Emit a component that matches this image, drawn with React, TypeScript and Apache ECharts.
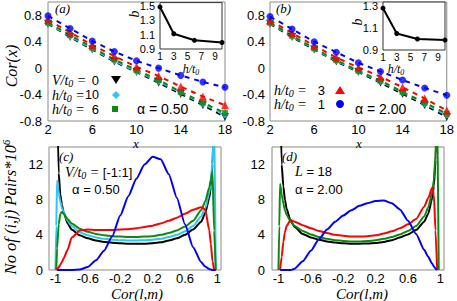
import { useEffect, useRef } from 'react';
import * as echarts from 'echarts';

// ---------- top panels: Cor(x) versus x ----------
const siteX = [2, 4, 6, 8, 10, 12, 14, 16, 18];
// panel (a), alpha = 0.50
const corA_V0 = [0.67, 0.47, 0.28, 0.10, -0.06, -0.22, -0.39, -0.56, -0.74];
const corA_H10 = [0.68, 0.48, 0.29, 0.11, -0.05, -0.20, -0.37, -0.54, -0.71];
const corA_H6 = [0.69, 0.50, 0.31, 0.13, -0.03, -0.18, -0.36, -0.52, -0.68];
const corA_H3 = [0.73, 0.54, 0.35, 0.18, 0.02, -0.12, -0.28, -0.43, -0.56];
const corA_H1 = [0.79, 0.60, 0.41, 0.25, 0.11, 0.00, -0.11, -0.21, -0.29];
// panel (b), alpha = 2.00
const corB_V0 = [0.67, 0.47, 0.28, 0.10, -0.06, -0.22, -0.39, -0.56, -0.74];
const corB_H10 = [0.68, 0.48, 0.29, 0.11, -0.05, -0.20, -0.37, -0.54, -0.71];
const corB_H6 = [0.69, 0.49, 0.30, 0.12, -0.04, -0.19, -0.36, -0.52, -0.69];
const corB_H3 = [0.72, 0.53, 0.34, 0.16, 0.01, -0.13, -0.29, -0.46, -0.64];
const corB_H1 = [0.78, 0.59, 0.40, 0.24, 0.08, -0.05, -0.18, -0.30, -0.41];

// ---------- insets: b versus h/t0 ----------
const hField = [1, 3, 6, 10];
const bAlpha050 = [1.48, 1.11, 1.02, 0.99];
const bAlpha200 = [1.28, 1.05, 1.0, 0.99];

// ---------- bottom panels: number of pairs versus Cor(l,m) ----------
const corrX = [-1, -0.99, -0.98, -0.96, -0.94, -0.92, -0.9, -0.85, -0.8, -0.7, -0.6, -0.5, -0.4, -0.3, -0.2, -0.1, 0, 0.1, 0.2, 0.3, 0.4, 0.5, 0.6, 0.7, 0.8, 0.85, 0.9, 0.92, 0.94, 0.96, 0.98, 0.99, 1];
// panel (c), alpha = 0.50
const pcBlack = [null, null, 20, 11, 8.6, 7.4, 6.6, 5.3, 4.6, 3.95, 3.6, 3.35, 3.2, 3.1, 3.05, 3.0, 3.0, 3.0, 3.05, 3.15, 3.35, 3.6, 4.0, 4.6, 5.5, 6.5, 8.2, 9.5, 12, 20, null, null, null];
const pcCyan = [0, 5, 10.2, 8.8, 7.8, 7.1, 6.6, 5.6, 5.0, 4.3, 3.95, 3.7, 3.55, 3.45, 3.4, 3.35, 3.35, 3.4, 3.45, 3.55, 3.75, 4.0, 4.4, 5.0, 6.1, 7.0, 8.8, 10, 12.5, 17, 0, null, null];
const pcGreen = [null, 0, 2.5, 5.2, 6.4, 6.6, 6.4, 5.8, 5.3, 4.7, 4.35, 4.1, 3.95, 3.85, 3.8, 3.75, 3.75, 3.8, 3.85, 4.0, 4.2, 4.5, 4.95, 5.6, 6.8, 7.8, 9.4, 10.3, 11.2, 4.5, 0, null, null];
const pcRed = [null, 0, 0.1, 0.3, 0.6, 0.9, 1.3, 2.3, 3.7, 4.5, 4.6, 4.55, 4.55, 4.55, 4.6, 4.65, 4.75, 4.9, 5.05, 5.3, 5.6, 5.95, 6.4, 6.85, 7.15, 6.9, 4.5, 3.0, 1.0, 0, null, null, null];
const pcBlue = [null, null, 0, 0, 0, 0, 0, 0, 0, 0.05, 0.35, 1.1, 2.2, 3.8, 6.2, 8.4, 10.4, 12.0, 12.9, 12.6, 10.9, 8.2, 5.2, 2.6, 0.9, 0.4, 0.1, 0.05, 0, 0, 0, null, null];
// panel (d), alpha = 2.00
const pdBlack = [null, null, 20, 12, 9.5, 8.0, 7.0, 5.6, 4.9, 4.1, 3.7, 3.45, 3.25, 3.12, 3.05, 3.0, 3.0, 3.02, 3.08, 3.2, 3.4, 3.7, 4.05, 4.55, 5.5, 6.4, 8.2, 9.6, 12.5, 20, null, null, null];
const pdGreen = [0, 5, 9.8, 8.6, 7.6, 6.8, 6.3, 5.5, 5.0, 4.45, 4.05, 3.75, 3.55, 3.4, 3.3, 3.25, 3.25, 3.3, 3.38, 3.55, 3.75, 4.05, 4.45, 5.0, 6.1, 7.1, 8.9, 10.3, 13, 18, 0, null, null];
const pdRed = [null, null, 0, 1.5, 3.2, 4.3, 5.0, 5.7, 5.5, 5.1, 4.75, 4.45, 4.2, 4.0, 3.9, 3.8, 3.8, 3.85, 3.95, 4.15, 4.4, 4.75, 5.2, 5.8, 7.2, 8.2, 9.4, 8.5, 4.5, 0, null, null, null];
const pdBlue = [null, null, 0, 0, 0, 0, 0, 0, 0.15, 1.0, 2.2, 3.5, 4.6, 5.5, 6.2, 6.8, 7.3, 7.6, 7.85, 7.9, 7.6, 6.9, 5.6, 4.1, 2.3, 1.5, 0.7, 0.4, 0.15, 0, null, null, null];

// ---------- tick labels ----------
const topTicksX = [2, 6, 10, 14, 18];
const topTicksY = [-0.8, -0.4, 0, 0.4, 0.8];
const insetTicksX = [1, 3, 5, 7, 9];
const insetTicksYa = [0.9, 1.1, 1.3, 1.5];
const insetTicksYb = [0.9, 1.1, 1.3];
const pairTicksX = [-1, -0.6, -0.2, 0.2, 0.6, 1];
const pairTicksY = [0, 4, 8, 12];

const SERIF = "'Liberation Serif','DejaVu Serif',serif";
const SANS = "'Liberation Sans',Arial,sans-serif";

const BLACK = '#000000';
const CYAN = '#2ec4f4';
const GREEN = '#0b8a0b';
const RED = '#ff0000';
const BLUE = '#0000ff';

function axis(gridIndex: number, min: number, max: number, ticks: number[], fontSize: number, margin: number) {
  return {
    type: 'value',
    gridIndex,
    min,
    max,
    splitLine: { show: false },
    axisLine: { show: false },
    axisTick: { show: false },
    axisLabel: {
      customValues: ticks,
      showMinLabel: true,
      showMaxLabel: true,
      hideOverlap: false,
      fontSize,
      margin,
      color: '#000',
      fontFamily: SANS,
      formatter: (v: number) => String(v),
    },
  };
}

const richBase = (size: number, numSize: number) => ({
  i: { fontFamily: SERIF, fontStyle: 'italic', fontSize: size, lineHeight: size + 2, fill: '#000' },
  t: { fontFamily: SERIF, fontStyle: 'italic', fontSize: size, lineHeight: 10, fill: '#000' },
  s: { fontFamily: SERIF, fontStyle: 'italic', fontSize: Math.round(size * 0.68), lineHeight: Math.round(size * 0.68), verticalAlign: 'bottom', fill: '#000' },
  p: { fontFamily: SERIF, fontStyle: 'italic', fontSize: Math.round(size * 0.68), lineHeight: Math.round(size * 0.68), verticalAlign: 'top', fill: '#000' },
  n: { fontFamily: SANS, fontSize: numSize, lineHeight: size + 2, fill: '#000' },
});

function label(x: number, y: number, text: string, size: number, align = 'left', rotation = 0, numSize = size - 1) {
  return {
    type: 'text',
    x,
    y,
    rotation,
    z: 100,
    style: {
      text,
      rich: richBase(size, numSize),
      fontFamily: SANS,
      fontSize: size,
      fill: '#000',
      align,
      textAlign: align,
      verticalAlign: 'middle',
      textVerticalAlign: 'middle',
    },
  };
}

function buildOption() {
  const topSets = [
    { a: corA_V0, b: corB_V0, color: BLACK, symbol: 'triangle', rotate: 180, size: 8 },
    { a: corA_H10, b: corB_H10, color: CYAN, symbol: 'diamond', rotate: 0, size: 7 },
    { a: corA_H6, b: corB_H6, color: GREEN, symbol: 'rect', rotate: 0, size: 6 },
    { a: corA_H3, b: corB_H3, color: RED, symbol: 'triangle', rotate: 0, size: 8 },
    { a: corA_H1, b: corB_H1, color: BLUE, symbol: 'circle', rotate: 0, size: 7 },
  ];

  const series: any[] = [];
  [0, 1].forEach((p) => {
    topSets.forEach((s) => {
      const vals = p === 0 ? s.a : s.b;
      const data = siteX.map((x, i) => [x, vals[i]]);
      series.push({
        type: 'line',
        xAxisIndex: p,
        yAxisIndex: p,
        data,
        symbol: 'none',
        z: 2,
        lineStyle: { color: s.color, width: 2, type: [5, 5] },
      });
    });
    topSets.forEach((s) => {
      const vals = p === 0 ? s.a : s.b;
      const data = siteX.map((x, i) => [x, vals[i]]);
      series.push({
        type: 'scatter',
        xAxisIndex: p,
        yAxisIndex: p,
        data,
        symbol: s.symbol,
        symbolRotate: s.rotate,
        symbolSize: s.size,
        z: 3,
        itemStyle: { color: s.color },
      });
    });
  });

  [bAlpha050, bAlpha200].forEach((vals, k) => {
    series.push({
      type: 'line',
      xAxisIndex: 2 + k,
      yAxisIndex: 2 + k,
      data: hField.map((h, i) => [h, vals[i]]),
      symbol: 'circle',
      symbolSize: 5,
      z: 5,
      itemStyle: { color: '#000' },
      lineStyle: { color: '#000', width: 2 },
    });
  });

  const pairsC = [
    { v: pcBlack, color: BLACK },
    { v: pcCyan, color: CYAN },
    { v: pcGreen, color: GREEN },
    { v: pcRed, color: RED },
    { v: pcBlue, color: BLUE },
  ];
  const pairsD = [
    { v: pdBlack, color: BLACK },
    { v: pdGreen, color: GREEN },
    { v: pdRed, color: RED },
    { v: pdBlue, color: BLUE },
  ];
  [pairsC, pairsD].forEach((set, k) => {
    set.forEach((s) => {
      const data: number[][] = [];
      corrX.forEach((x, i) => {
        const y = s.v[i];
        if (y !== null && y !== undefined) data.push([x, y]);
      });
      series.push({
        type: 'line',
        xAxisIndex: 4 + k,
        yAxisIndex: 4 + k,
        data,
        symbol: 'none',
        smooth: 0.2,
        smoothMonotone: 'x',
        clip: true,
        z: 2,
        lineStyle: { color: s.color, width: 2 },
      });
    });
  });

  const boxMain = { show: true, borderColor: '#8a8a8a', borderWidth: 1, backgroundColor: 'transparent' };
  const boxInset = { show: true, borderColor: '#333', borderWidth: 1, backgroundColor: '#fff' };

  const graphic: any[] = [
    // axis titles
    label(11, 66, '{i|Cor(x)}', 16, 'center', Math.PI / 2),
    label(10, 207, '{i|No of (i,j) Pairs*10}{p|6}', 16.5, 'center', Math.PI / 2),
    label(136, 143.5, '{t|x}', 13, 'center'),
    label(359, 143.5, '{t|x}', 13, 'center'),
    label(137, 294, '{i|Cor(l,m)}', 15, 'center'),
    label(362, 294, '{i|Cor(l,m)}', 15, 'center'),
    // panel tags
    label(55, 8, '{i|(a)}', 13),
    label(276, 8, '{i|(b)}', 13),
    label(59, 156, '{i|(c)}', 13),
    label(282, 156, '{i|(d)}', 13),
    // inset titles
    label(191, 69, '{i|h/t}{s|0}', 12, 'center'),
    label(396, 69, '{i|h/t}{s|0}', 12, 'center'),
    label(134, 14, '{i|b}', 14, 'center', Math.PI / 2),
    label(357, 22, '{i|b}', 14, 'center', Math.PI / 2),
    // legend (a)
    label(52, 80, '{i|V/t}{s|0}{i| =}', 14),
    label(99, 80, '{n|0}', 14, 'right', 0, 13),
    label(52, 95, '{i|h/t}{s|0}{i| =}', 14),
    label(99, 95, '{n|10}', 14, 'right', 0, 12.5),
    label(52, 109, '{i|h/t}{s|0}{i| =}', 14),
    label(99, 109, '{n|6}', 14, 'right', 0, 13),
    label(137, 109, '{n|α = 0.50}', 15),
    // legend (b)
    label(274, 90, '{i|h/t}{s|0}{i| =}', 14),
    label(325, 90, '{n|3}', 14, 'right', 0, 13),
    label(274, 104, '{i|h/t}{s|0}{i| =}', 14),
    label(325, 104, '{n|1}', 14, 'right', 0, 13),
    label(355, 109, '{n|α = 2.00}', 15),
    // annotations (c), (d)
    label(65, 172, '{i|V/t}{s|0}{i| = }{n|[-1:1]}', 14),
    label(72, 189, '{n|α = 0.50}', 14),
    label(295, 171, '{i|L}{n| = 18}', 14),
    label(295, 189, '{n|α = 2.00}', 14),
    // legend keys
    { type: 'polygon', z: 100, shape: { points: [[111, 76], [121, 76], [116, 84]] }, style: { fill: BLACK } },
    { type: 'polygon', z: 100, shape: { points: [[116, 91], [120, 95], [116, 99], [112, 95]] }, style: { fill: CYAN } },
    { type: 'rect', z: 100, shape: { x: 112, y: 106, width: 6, height: 6 }, style: { fill: GREEN } },
    { type: 'polygon', z: 100, shape: { points: [[335, 94], [345, 94], [340, 86]] }, style: { fill: RED } },
    { type: 'circle', z: 100, shape: { cx: 340, cy: 104, r: 4 }, style: { fill: BLUE } },
  ];

  return {
    animation: false,
    backgroundColor: '#fff',
    textStyle: { fontFamily: SANS },
    grid: [
      { left: 48, top: 2, width: 177, height: 119, ...boxMain },
      { left: 270, top: 2, width: 178, height: 119, ...boxMain },
      { left: 160, top: 2, width: 62, height: 47, ...boxInset },
      { left: 383, top: 2, width: 62, height: 48, ...boxInset },
      { left: 49, top: 147, width: 172, height: 123, ...boxMain },
      { left: 272, top: 147, width: 172, height: 123, ...boxMain },
    ],
    xAxis: [
      axis(0, 2, 18, topTicksX, 13, 2),
      axis(1, 2, 18, topTicksX, 13, 2),
      axis(2, 1, 10, insetTicksX, 10, 2),
      axis(3, 1, 10, insetTicksX, 10, 2),
      axis(4, -1.08, 1.045, pairTicksX, 13, 2),
      axis(5, -1.08, 1.045, pairTicksX, 13, 2),
    ],
    yAxis: [
      axis(0, -0.8, 1.0, topTicksY, 13, 6),
      axis(1, -0.8, 1.0, topTicksY, 13, 5),
      axis(2, 0.9, 1.54, insetTicksYa, 11, 5),
      axis(3, 0.9, 1.336, insetTicksYb, 11, 5),
      axis(4, 0, 14, pairTicksY, 13, 6),
      axis(5, 0, 14, pairTicksY, 13, 7),
    ],
    series,
    graphic,
  };
}

export default function App() {
  const ref = useRef<HTMLDivElement>(null);
  useEffect(() => {
    if (!ref.current) return;
    const chart = echarts.init(ref.current, null, { renderer: 'svg' });
    chart.setOption(buildOption() as any);
    return () => chart.dispose();
  }, []);
  return (
    <div
      ref={ref}
      style={{ position: 'fixed', left: 0, top: 0, width: 457, height: 301, background: '#fff' }}
    />
  );
}
